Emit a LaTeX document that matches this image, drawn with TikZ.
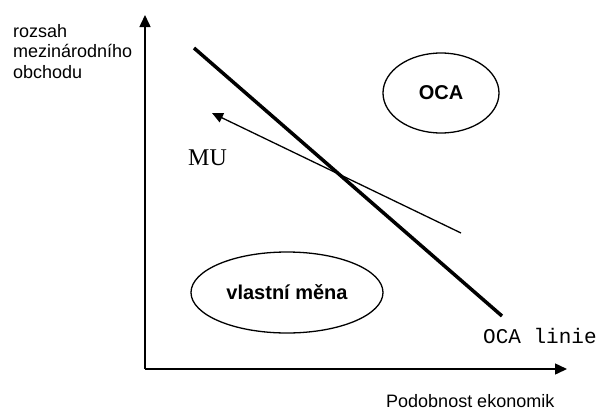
\documentclass[tikz,border=0pt]{standalone}
\usepackage{fontspec}
\setmainfont{Liberation Sans}
\newfontfamily\serifface{Liberation Serif}
\newfontfamily\monoface{Liberation Mono}
\usetikzlibrary{arrows.meta,shapes.geometric}
\begin{document}
\begin{tikzpicture}[x=1pt,y=-1pt,
  axisline/.style={line width=1.5pt,-{Triangle[length=12pt,width=11pt]}},
  ocaline/.style={line width=3.5pt},
  muarrow/.style={line width=1.3pt,-{Triangle[length=11pt,width=10pt]}},
  region/.style={ellipse,draw,line width=1.3pt,inner sep=0pt,font=\fontsize{20}{24}\selectfont\bfseries},
  lbl/.style={inner sep=0pt,font=\fontsize{18}{20.7}\selectfont}]
\useasboundingbox (0,0) rectangle (597,410);
\coordinate (o) at (145,369);
\coordinate (ytop) at (145,15);
\coordinate (xend) at (567,369);
\draw[axisline] (o) -- (ytop);
\draw[axisline] (o) -- (xend);
\coordinate (l1) at (194,48);
\coordinate (l2) at (502,316);
\draw[ocaline] (l1) -- (l2);
\coordinate (m1) at (461,233);
\coordinate (m2) at (212,113);
\draw[muarrow] (m1) -- (m2);
\node[region,minimum width=116pt,minimum height=80pt] (oca) at (441,93) {OCA};
\node[region,minimum width=192pt,minimum height=81pt] (vm) at (287,292.5) {vlastní měna};
\node[lbl,anchor=north west,align=left] (ylab) at (13,24) {rozsah\\mezinárodního\\obchodu};
\node[lbl,anchor=base west] (xlab) at (386,407) {Podobnost ekonomik};
\node[inner sep=0pt,anchor=base west,font=\fontsize{21}{24}\monoface] (ocalab) at (483,343) {OCA linie};
\node[inner sep=0pt,anchor=base west,font=\fontsize{24}{28}\serifface] (mu) at (188,165) {MU};
\end{tikzpicture}
\end{document}
